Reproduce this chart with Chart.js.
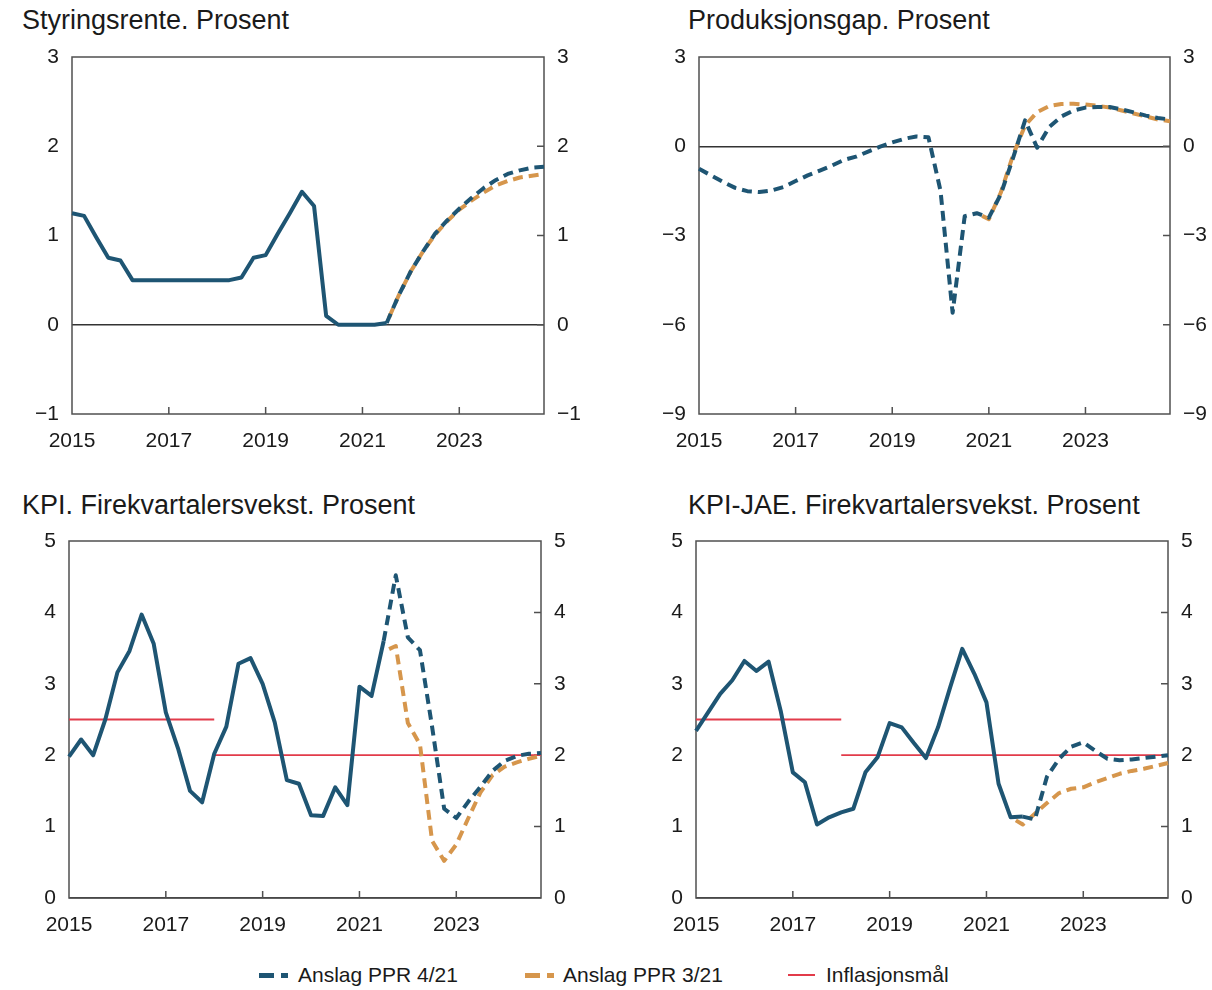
<!DOCTYPE html>
<html lang="no">
<head>
<meta charset="utf-8">
<script src="https://cdn.jsdelivr.net/npm/chart.js"></script>
<style>
  body { margin: 0; background: #fff; font-family: "Liberation Sans", Arial, sans-serif; color: #1a1a1a; }
  #side { position: relative; width: 1212px; height: 990px; overflow: hidden; }
  .tittel { position: absolute; font-size: 27px; line-height: 32px; white-space: nowrap; }
  .panel { position: absolute; }
  .merke { position: absolute; height: 5px; }
  .legtekst { position: absolute; top: 963px; font-size: 21px; line-height: 24px; white-space: nowrap; }
</style>
</head>
<body>
<div id="side">
  <div class="tittel" style="left:22px; top:4px">Styringsrente. Prosent</div>
  <div class="tittel" style="left:688px; top:4px">Produksjonsgap. Prosent</div>
  <div class="tittel" style="left:22px; top:489px">KPI. Firekvartalersvekst. Prosent</div>
  <div class="tittel" style="left:688px; top:489px">KPI-JAE. Firekvartalersvekst. Prosent</div>

  <canvas id="rente" class="panel" width="606" height="440" style="left:0px; top:30px"></canvas>
  <canvas id="gap" class="panel" width="592" height="440" style="left:620px; top:30px"></canvas>
  <canvas id="kpi" class="panel" width="606" height="440" style="left:0px; top:515px"></canvas>
  <canvas id="jae" class="panel" width="592" height="440" style="left:620px; top:515px"></canvas>

  <div class="merke" style="left:259px; top:973px; width:15px; background:#1e5573"></div>
  <div class="merke" style="left:281px; top:973px; width:7px; background:#1e5573"></div>
  <div class="legtekst" style="left:298px">Anslag PPR 4/21</div>
  <div class="merke" style="left:525px; top:973px; width:15px; background:#d6964c"></div>
  <div class="merke" style="left:547px; top:973px; width:7px; background:#d6964c"></div>
  <div class="legtekst" style="left:563px">Anslag PPR 3/21</div>
  <div class="merke" style="left:788px; top:974px; width:27px; height:2px; background:#e23b4a"></div>
  <div class="legtekst" style="left:826px">Inflasjonsmål</div>
</div>

<script>
// kategorier: kvartaler 2015K1 - 2024K4
const aar = [2015, 2016, 2017, 2018, 2019, 2020, 2021, 2022, 2023, 2024];
const kvartaler = aar.flatMap(a => [a + 'K1', a + 'K2', a + 'K3', a + 'K4']);
const aarsTikk = ['2015', '2017', '2019', '2021', '2023'];

// Styringsrente
const renteHist = [1.25, 1.22, 0.98, 0.75, 0.72, 0.5, 0.5, 0.5, 0.5, 0.5, 0.5, 0.5, 0.5, 0.5,
  0.53, 0.75, 0.78, 1.02, 1.25, 1.49, 1.33, 0.1, 0, 0, 0, 0, 0.02];
const renteStart = '2021K3';
const rente421 = [0.02, 0.33, 0.6, 0.82, 1.02, 1.17, 1.3, 1.42, 1.53, 1.62, 1.69, 1.73, 1.76, 1.77];
const rente321 = [0.02, 0.33, 0.6, 0.82, 1.01, 1.16, 1.29, 1.39, 1.48, 1.56, 1.61, 1.65, 1.67, 1.69];

// Produksjonsgap
const gap421 = [-0.76, -0.98, -1.2, -1.4, -1.51, -1.54, -1.49, -1.37, -1.17, -0.98, -0.82, -0.65,
  -0.46, -0.35, -0.18, -0.01, 0.13, 0.25, 0.33, 0.3, -1.5, -5.6, -2.35, -2.25, -2.4, -1.6, -0.4,
  0.87, -0.05, 0.65, 1.0, 1.2, 1.3, 1.32, 1.32, 1.24, 1.14, 1.03, 0.95, 0.9];
const gapStart321 = '2020K4';
const gap321 = [-2.25, -2.45, -1.55, -0.3, 0.7, 1.15, 1.35, 1.42, 1.43, 1.4, 1.36, 1.3, 1.2,
  1.1, 1.0, 0.9, 0.84];

// KPI
const kpiHist = [1.98, 2.22, 2.0, 2.5, 3.16, 3.46, 3.97, 3.56, 2.6, 2.1, 1.5, 1.34, 2.02, 2.4,
  3.28, 3.36, 3.0, 2.46, 1.65, 1.6, 1.16, 1.15, 1.55, 1.3, 2.96, 2.83, 3.6];
const kpiStart = '2021K3';
const kpi421 = [3.6, 4.52, 3.65, 3.47, 2.4, 1.25, 1.12, 1.35, 1.56, 1.78, 1.92, 1.99, 2.02, 2.03];
const kpi321 = [3.45, 3.53, 2.45, 2.15, 0.8, 0.52, 0.75, 1.12, 1.48, 1.72, 1.84, 1.9, 1.95, 1.99];

// KPI-JAE
const jaeHist = [2.34, 2.6, 2.86, 3.05, 3.32, 3.18, 3.31, 2.62, 1.76, 1.62, 1.03, 1.13, 1.2, 1.25,
  1.76, 1.97, 2.45, 2.39, 2.17, 1.96, 2.39, 2.95, 3.49, 3.14, 2.74, 1.6, 1.13, 1.14];
const jaeStart421 = '2021K4';
const jae421 = [1.14, 1.1, 1.7, 1.95, 2.12, 2.18, 2.06, 1.95, 1.93, 1.94, 1.96, 1.98, 2.0];
const jaeStart321 = '2021K3';
const jae321 = [1.13, 1.03, 1.18, 1.33, 1.47, 1.53, 1.55, 1.62, 1.68, 1.74, 1.78, 1.81, 1.85, 1.89];

// Inflasjonsmål: 2,5 til 2018K1, deretter 2
const maalGammel = 2.5;
const maalNy = 2;
const maalSkifte = '2018K1';

const BLA = '#1e5573', ORANSJE = '#d6964c', ROD = '#e23b4a';
const FONT = "'Liberation Sans', Arial, sans-serif";

Chart.defaults.font.family = FONT;
Chart.defaults.font.size = 21;
Chart.defaults.color = '#1a1a1a';

function fra(start, verdier) {
  const i0 = kvartaler.indexOf(start);
  return verdier.map((v, i) => ({ x: kvartaler[i0 + i], y: v }));
}

function hel(verdier, farge) {
  return { data: verdier, borderColor: farge, borderWidth: 4, borderJoinStyle: 'round', pointRadius: 0, fill: false };
}
function stiplet(data, farge, forskyvning) {
  return { data: data, borderColor: farge, borderWidth: 4, borderDash: [10, 6], borderDashOffset: forskyvning,
    borderCapStyle: 'butt', borderJoinStyle: 'round', pointRadius: 0, fill: false };
}
function maallinjer() {
  return [
    { data: [{ x: kvartaler[0], y: maalGammel }, { x: maalSkifte, y: maalGammel }], borderColor: ROD, borderWidth: 1.8, pointRadius: 0 },
    { data: [{ x: maalSkifte, y: maalNy }, { x: kvartaler[kvartaler.length - 1], y: maalNy }], borderColor: ROD, borderWidth: 1.8, pointRadius: 0 }
  ];
}

const ramme = {
  id: 'ramme',
  beforeDatasetsDraw(chart) {
    const { ctx, chartArea: a, scales } = chart;
    ctx.save();
    ctx.strokeStyle = '#505050';
    ctx.lineWidth = 1.5;
    ctx.strokeRect(a.left, a.top, a.right - a.left, a.bottom - a.top);
    ctx.beginPath();
    scales.x.ticks.forEach((t, i) => {
      if (!t.label || i === 0) return;
      const x = scales.x.getPixelForTick(i);
      ctx.moveTo(x, a.bottom);
      ctx.lineTo(x, a.bottom - 7);
    });
    scales.y2.ticks.forEach((t, i) => {
      const y = scales.y2.getPixelForTick(i);
      if (y <= a.top + 1 || y >= a.bottom - 1) return;
      ctx.moveTo(a.right, y);
      ctx.lineTo(a.right - 7, y);
    });
    ctx.stroke();
    ctx.restore();
  }
};

function minus(v) { return v < 0 ? '\u2212' + Math.abs(v) : String(v); }

function lagPanel(id, boks, plot, yMin, yMax, steg, datasett) {
  new Chart(document.getElementById(id), {
    type: 'line',
    data: { labels: kvartaler, datasets: datasett },
    options: {
      responsive: false,
      animation: false,
      devicePixelRatio: 1,
      layout: { padding: { top: plot.t - boks.y, left: 0, right: 0, bottom: 0 } },
      plugins: { legend: { display: false }, tooltip: { enabled: false } },
      elements: { line: { tension: 0 }, point: { radius: 0 } },
      scales: {
        x: {
          type: 'category', offset: false,
          grid: { display: false, drawTicks: false }, border: { display: false },
          ticks: {
            autoSkip: false, maxRotation: 0, minRotation: 0, padding: 15,
            callback: (v, i) => {
              const k = kvartaler[i];
              const a = k.slice(0, 4);
              return k.endsWith('K1') && aarsTikk.includes(a) ? a : '';
            }
          },
          afterFit(s) { s.height = boks.y + boks.h - plot.b; }
        },
        y: {
          position: 'left', min: yMin, max: yMax,
          ticks: { stepSize: steg, padding: 13, callback: minus },
          grid: { drawTicks: false, lineWidth: 1.5, color: c => c.tick && c.tick.value === 0 ? '#333' : 'rgba(0,0,0,0)' },
          border: { display: false },
          afterFit(s) { s.width = plot.l - boks.x; }
        },
        y2: {
          position: 'right', min: yMin, max: yMax, display: true,
          ticks: { stepSize: steg, padding: 13, callback: minus },
          grid: { display: false, drawTicks: false }, border: { display: false },
          afterFit(s) { s.width = boks.x + boks.w - plot.r; }
        }
      }
    },
    plugins: [ramme]
  });
}

lagPanel('rente', { x: 0, y: 30, w: 606, h: 440 }, { l: 72, r: 544, t: 57, b: 414 }, -1, 3, 1, [
  hel(renteHist, BLA),
  stiplet(fra(renteStart, rente421), BLA, 0),
  stiplet(fra(renteStart, rente321), ORANSJE, 10)
]);

lagPanel('gap', { x: 620, y: 30, w: 592, h: 440 }, { l: 699, r: 1170, t: 57, b: 414 }, -9, 3, 3, [
  stiplet(gap421, BLA, 0),
  stiplet(fra(gapStart321, gap321), ORANSJE, 10)
]);

lagPanel('kpi', { x: 0, y: 515, w: 606, h: 440 }, { l: 69, r: 541, t: 541, b: 898 }, 0, 5, 1, [
  hel(kpiHist, BLA),
  stiplet(fra(kpiStart, kpi421), BLA, 0),
  stiplet(fra(kpiStart, kpi321), ORANSJE, 10),
  ...maallinjer()
]);

lagPanel('jae', { x: 620, y: 515, w: 592, h: 440 }, { l: 696, r: 1168, t: 541, b: 898 }, 0, 5, 1, [
  hel(jaeHist, BLA),
  stiplet(fra(jaeStart421, jae421), BLA, 0),
  stiplet(fra(jaeStart321, jae321), ORANSJE, 10),
  ...maallinjer()
]);
</script>
</body>
</html>
